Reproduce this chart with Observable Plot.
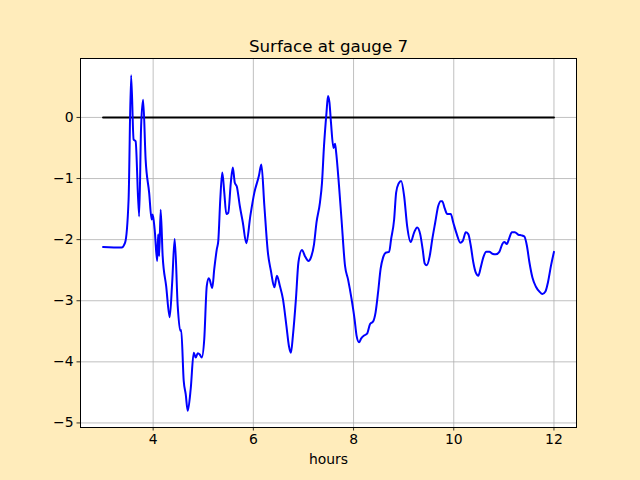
<!DOCTYPE html>
<html>
<head>
<meta charset="utf-8">
<script src="https://cdn.jsdelivr.net/npm/d3@7"></script>
<script src="https://cdn.jsdelivr.net/npm/@observablehq/plot@0.6"></script>
<style>
  html, body { margin: 0; padding: 0; background: #ffecbb; }
</style>
</head>
<body>
<div id="chart"></div>
<script>
const titleText = "Surface at gauge 7";
const xLabel = "hours";
const xTicks = [4, 6, 8, 10, 12];
const yTicks = [-5, -4, -3, -2, -1, 0];

const hours = [3.00,3.37,3.44,3.51,3.56,3.61,3.65,3.72,3.76,3.80,3.85,3.92,3.97,3.99,4.03,4.08,4.10,4.12,4.15,4.19,4.26,4.33,4.38,4.43,4.49,4.54,4.56,4.61,4.65,4.69,4.75,4.81,4.85,4.89,4.93,4.97,5.02,5.07,5.11,5.13,5.18,5.22,5.27,5.30,5.34,5.38,5.42,5.46,5.50,5.55,5.59,5.63,5.67,5.73,5.79,5.86,5.94,6.02,6.11,6.16,6.22,6.29,6.35,6.42,6.47,6.53,6.59,6.66,6.71,6.75,6.79,6.85,6.90,6.97,7.03,7.10,7.15,7.21,7.26,7.33,7.37,7.41,7.46,7.49,7.52,7.55,7.60,7.63,7.65,7.71,7.76,7.83,7.89,7.96,8.02,8.06,8.11,8.15,8.21,8.27,8.33,8.39,8.44,8.49,8.54,8.59,8.65,8.71,8.75,8.81,8.85,8.90,8.95,9.01,9.07,9.14,9.21,9.27,9.33,9.38,9.42,9.46,9.52,9.57,9.63,9.69,9.74,9.77,9.82,9.87,9.94,9.99,10.06,10.13,10.18,10.24,10.29,10.34,10.39,10.44,10.49,10.54,10.59,10.65,10.71,10.77,10.84,10.91,10.97,11.01,11.06,11.11,11.16,11.22,11.29,11.35,11.41,11.46,11.51,11.57,11.64,11.71,11.77,11.83,11.88,11.94,12.00];
const surface = [-2.12,-2.13,-2.05,-1.34,0.69,-0.36,-0.39,-1.62,-0.14,0.29,-0.69,-1.23,-1.67,-1.59,-1.83,-2.35,-1.91,-2.27,-1.51,-2.27,-2.76,-3.27,-2.70,-1.99,-3.08,-3.49,-3.48,-4.31,-4.53,-4.80,-4.44,-3.85,-3.93,-3.86,-3.88,-3.93,-3.63,-2.76,-2.63,-2.66,-2.79,-2.48,-2.16,-2.02,-1.34,-0.90,-1.23,-1.58,-1.56,-1.07,-0.82,-1.07,-1.13,-1.45,-1.72,-2.06,-1.61,-1.23,-0.96,-0.77,-1.45,-2.21,-2.51,-2.78,-2.59,-2.76,-2.97,-3.41,-3.74,-3.85,-3.57,-2.97,-2.37,-2.17,-2.27,-2.35,-2.29,-2.08,-1.72,-1.39,-1.07,-0.47,0.08,0.35,0.24,-0.09,-0.50,-0.43,-0.55,-1.12,-1.67,-2.43,-2.65,-2.97,-3.30,-3.57,-3.68,-3.62,-3.57,-3.54,-3.38,-3.34,-3.19,-2.86,-2.48,-2.29,-2.21,-2.20,-1.99,-1.67,-1.23,-1.08,-1.04,-1.29,-1.78,-2.04,-1.88,-1.80,-1.91,-2.16,-2.39,-2.42,-2.27,-2.00,-1.72,-1.45,-1.37,-1.37,-1.49,-1.58,-1.58,-1.72,-1.91,-2.05,-2.02,-1.88,-1.91,-2.10,-2.37,-2.54,-2.59,-2.45,-2.29,-2.20,-2.20,-2.23,-2.24,-2.20,-2.07,-2.04,-2.07,-1.97,-1.88,-1.88,-1.92,-1.93,-1.95,-2.10,-2.37,-2.62,-2.77,-2.85,-2.89,-2.85,-2.70,-2.43,-2.20];
const zeroHours = [3, 12];
const zeroLevel = [0, 0];

const gauge = hours.map((h, i) => ({h, v: surface[i]}));
const zero = zeroHours.map((h, i) => ({h, v: zeroLevel[i]}));

function padded(vals) {
  const [a, b] = d3.extent(vals);
  const m = (b - a) * 0.05;
  return [a - m, b + m];
}
const fmt = d => d < 0 ? "\u2212" + Math.abs(d) : String(d);

const chart = Plot.plot({
  width: 640,
  height: 480,
  marginLeft: 80,
  marginRight: 64,
  marginTop: 58,
  marginBottom: 53,
  style: {background: "#ffecbb", fontFamily: "DejaVu Sans", fontSize: "13.9px", color: "black"},
  x: {domain: padded(hours.concat(zeroHours))},
  y: {domain: padded(surface.concat(zeroLevel))},
  marks: [
    Plot.frame({fill: "white"}),
    Plot.gridX(xTicks, {stroke: "#b0b0b0", strokeOpacity: 1, strokeWidth: 0.8}),
    Plot.gridY(yTicks, {stroke: "#b0b0b0", strokeOpacity: 1, strokeWidth: 0.8}),
    Plot.axisX(xTicks, {tickSize: 3.5, tickPadding: 3.5, tickFormat: fmt, label: null, strokeWidth: 0.8, fontSize: 13.9}),
    Plot.axisY(yTicks, {tickSize: 3.5, tickPadding: 3.5, tickFormat: fmt, label: null, strokeWidth: 0.8, fontSize: 13.9}),
    Plot.line(zero, {x: "h", y: "v", stroke: "black", strokeWidth: 2}),
    Plot.line(gauge, {x: "h", y: "v", stroke: "blue", strokeWidth: 2, curve: "monotone-x"}),
    Plot.frame({stroke: "black", strokeWidth: 1}),
    Plot.text([titleText], {frameAnchor: "top", lineAnchor: "bottom", dy: -7, fontSize: 16.7}),
    Plot.text([xLabel], {frameAnchor: "bottom", lineAnchor: "top", dy: 27, fontSize: 13.9})
  ]
});
document.getElementById("chart").append(chart);
</script>
</body>
</html>
